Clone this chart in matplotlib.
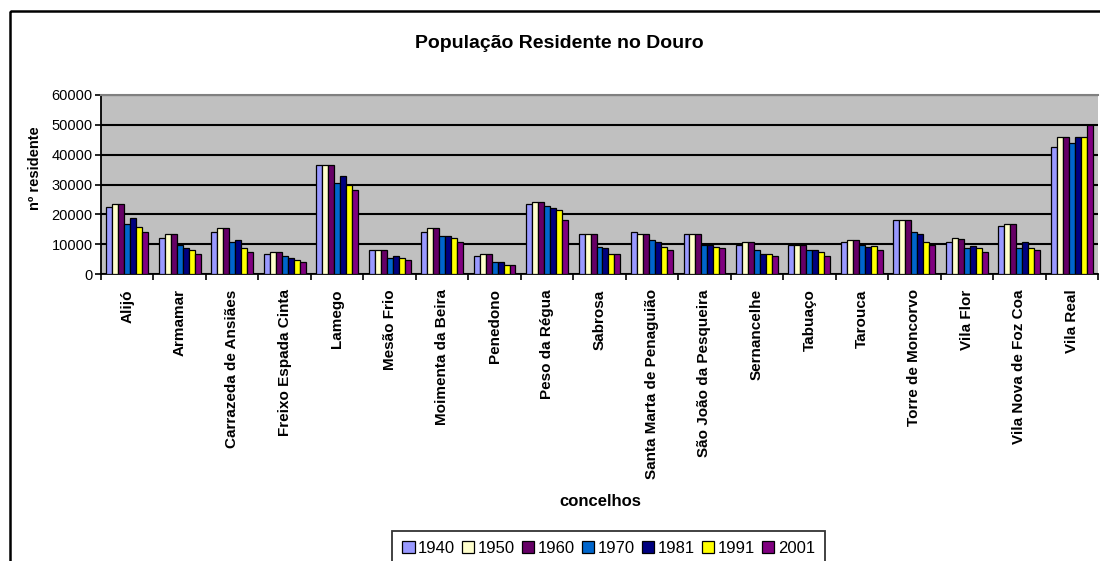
import matplotlib
matplotlib.use("Agg")
import matplotlib.pyplot as plt
import numpy as np
from matplotlib.patches import Rectangle

plt.rcParams['font.family'] = ['Liberation Sans', 'DejaVu Sans']

concelhos = ["Alijó", "Armamar", "Carrazeda de Ansiães", "Freixo Espada Cinta", "Lamego",
             "Mesão Frio", "Moimenta da Beira", "Penedono", "Peso da Régua", "Sabrosa",
             "Santa Marta de Penaguião", "São João da Pesqueira", "Sernancelhe", "Tabuaço",
             "Tarouca", "Torre de Moncorvo", "Vila Flor", "Vila Nova de Foz Coa", "Vila Real"]
anos = ["1940", "1950", "1960", "1970", "1981", "1991", "2001"]

v1940 = [22600, 12000, 14000, 6700, 36600, 8000, 14000, 6000, 23300, 13300, 14000, 13300, 9800, 9800, 10700, 18000, 10700, 16000, 42700]
v1950 = [23300, 13300, 15300, 7300, 36600, 8000, 15300, 6700, 24000, 13300, 13300, 13300, 10700, 9800, 11300, 18000, 12000, 16700, 46000]
v1960 = [23300, 13300, 15300, 7300, 36600, 8000, 15300, 6700, 24000, 13300, 13300, 13300, 10700, 9800, 11300, 18000, 11800, 16700, 46000]
v1970 = [16700, 9800, 10700, 6000, 30600, 5300, 12700, 4000, 22700, 9100, 11300, 9800, 8000, 8000, 9800, 14000, 8700, 8700, 44000]
v1981 = [18700, 8700, 11300, 5300, 32700, 6000, 12700, 4000, 22000, 8700, 10700, 9800, 6700, 8000, 8900, 13300, 9300, 10700, 46000]
v1991 = [15900, 8000, 8700, 4700, 29800, 5300, 12000, 3100, 21300, 6700, 9100, 9100, 6700, 7300, 9300, 10700, 8700, 8700, 46000]
v2001 = [14000, 6700, 7400, 4000, 28000, 4700, 10700, 3100, 18000, 6700, 8000, 8700, 6000, 6000, 8000, 9800, 7300, 8000, 49800]
series = [v1940, v1950, v1960, v1970, v1981, v1991, v2001]
cores = ["#9999FF", "#FFFFCC", "#660066", "#0066CC", "#000080", "#FFFF00", "#800080"]

W, H = 1100, 561
fig = plt.figure(figsize=(W / 100, H / 100), dpi=100)

# chart outer border
fig.add_artist(Rectangle((10 / W, 1 - 11 / H), 1.2, -1.2, transform=fig.transFigure,
                         fill=False, edgecolor='black', linewidth=1.8))

left, right, top, bottom = 101, 1098, 95, 274
ax = fig.add_axes([left / W, 1 - bottom / H, (right - left) / W, (bottom - top) / H])
ax.set_facecolor('#C0C0C0')

n = len(concelhos)
x = np.arange(n)
bw = 0.114
for i, (vals, c, lab) in enumerate(zip(series, cores, anos)):
    ax.bar(x + (i - 3) * bw, vals, width=bw, color=c, edgecolor='black', linewidth=0.9,
           label=lab, zorder=3)

ax.set_xlim(-0.5, n - 0.5)
ax.set_ylim(0, 60000)
ax.set_yticks(range(0, 60001, 10000))
ax.set_yticklabels([str(v) for v in range(0, 60001, 10000)], fontsize=10.5)
ax.yaxis.grid(True, color='black', linewidth=1.5, zorder=1)
ax.set_axisbelow(True)

ax.set_xticks(x)
ax.set_xticklabels(concelhos, rotation=90, fontsize=11, fontweight='bold', va='top')
ax.set_xticks(np.arange(-0.5, n, 1.0), minor=True)
ax.tick_params(axis='x', which='major', length=0, pad=11)
ax.tick_params(axis='x', which='minor', length=4, width=1.2, direction='out')
ax.tick_params(axis='y', length=4, width=1.2, direction='out', pad=2)

for s in ['left', 'bottom']:
    ax.spines[s].set_color('black')
    ax.spines[s].set_linewidth(1.3)
ax.spines['top'].set_color('#808080')
ax.spines['top'].set_linewidth(1.5)
ax.spines['right'].set_visible(False)

fig.text(559 / W, 1 - 44 / H, "População Residente no Douro", ha='center', va='center',
         fontsize=14, fontweight='bold')
fig.text(600 / W, 1 - 501 / H, "concelhos", ha='center', va='center',
         fontsize=12, fontweight='bold')
yl = fig.text(35 / W, 1 - 210 / H, "nº residentes", ha='center', va='bottom', rotation=90,
              fontsize=10.5, fontweight='bold')
clip = Rectangle((0, 1 - 210 / H), 1, 82 / H, transform=fig.transFigure, visible=False)
fig.add_artist(clip)
yl.set_clip_path(clip)

leg = fig.legend(loc='upper left', bbox_to_anchor=(392 / W, 1 - 531 / H), ncol=7,
                 fontsize=12, frameon=True, fancybox=False, edgecolor='black',
                 handlelength=0.75, handleheight=0.75, handletextpad=0.2,
                 columnspacing=0.42, borderpad=0.6, borderaxespad=0)
leg.get_frame().set_linewidth(1.3)
for h in leg.legend_handles:
    h.set_linewidth(0.9)

fig.savefig("out.png", dpi=100)
